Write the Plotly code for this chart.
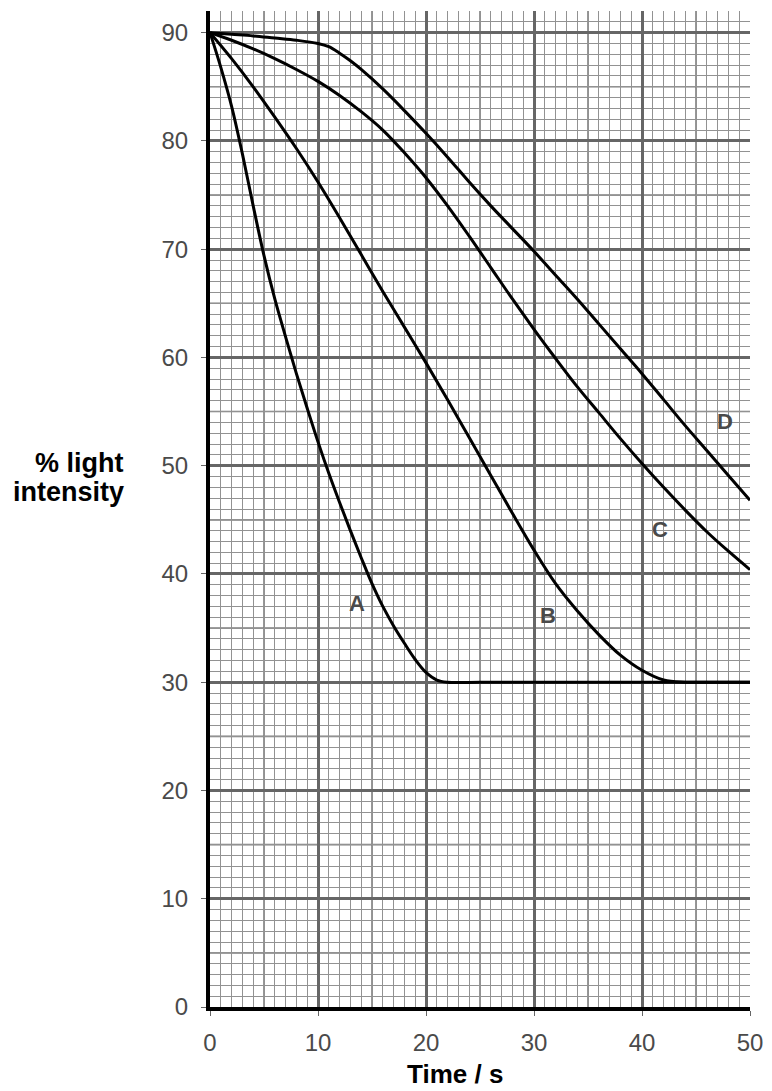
import plotly.graph_objects as go

# ---- data ----
A_x = [0, 1, 2, 3, 4, 5, 6, 7, 8, 9, 10, 11, 12, 13, 14, 15, 16, 17, 18, 19, 20, 21, 22, 25, 30, 40, 50]
A_y = [90, 86.8, 83.2, 78.8, 74.0, 69.4, 65.4, 61.9, 58.5, 55.3, 52.2, 49.3, 46.6, 44.0, 41.5, 39.1, 37.0, 35.2, 33.6, 32.1, 30.9, 30.2, 30.0, 30, 30, 30, 30]

B_x = [0, 2, 4, 6, 8, 10, 12, 14, 16, 18, 20, 22, 24, 26, 28, 30, 32, 34, 36, 38, 40, 42, 44, 46, 50]
B_y = [90, 87.6, 85.0, 82.2, 79.3, 76.2, 72.9, 69.5, 66.1, 62.8, 59.5, 56.1, 52.6, 49.1, 45.6, 42.2, 39.1, 36.6, 34.4, 32.5, 31.1, 30.2, 30.0, 30, 30]

C_x = [0, 2, 4, 6, 8, 10, 12, 14, 16, 18, 20, 22, 24, 26, 28, 30, 32, 34, 36, 38, 40, 42, 44, 46, 48, 50]
C_y = [90, 89.3, 88.5, 87.6, 86.6, 85.5, 84.2, 82.7, 81.0, 78.9, 76.6, 74.0, 71.2, 68.3, 65.4, 62.6, 59.9, 57.3, 54.9, 52.5, 50.2, 48.0, 45.9, 43.9, 42.1, 40.4]

D_x = [0, 2, 4, 6, 8, 10, 11, 12, 13, 14, 16, 18, 20, 22, 24, 26, 28, 30, 32, 34, 36, 38, 40, 42, 44, 46, 48, 50]
D_y = [90, 89.85, 89.7, 89.5, 89.3, 89.0, 88.7, 88.1, 87.4, 86.6, 84.8, 82.8, 80.7, 78.5, 76.2, 74.0, 71.9, 69.8, 67.6, 65.4, 63.1, 60.8, 58.5, 56.1, 53.7, 51.4, 49.1, 46.8]

curve_names = ["A", "B", "C", "D"]
label_x = [13.6, 31.3, 41.7, 47.7]
label_y = [37.3, 36.2, 44.1, 54.1]

x_ticks = [0, 10, 20, 30, 40, 50]
y_ticks = [0, 10, 20, 30, 40, 50, 60, 70, 80, 90]
x_title = "Time / s"
y_title_lines = ["% light", "intensity"]

FONT = "Liberation Sans, Arial, sans-serif"

fig = go.Figure()
for name, xs, ys in zip(curve_names, [A_x, B_x, C_x, D_x], [A_y, B_y, C_y, D_y]):
    fig.add_trace(go.Scatter(x=xs, y=ys, mode="lines", name=name,
                             line=dict(color="#000000", width=3, shape="spline", smoothing=1.0),
                             showlegend=False, hoverinfo="skip"))

# labels on curves
for name, lx, ly in zip(curve_names, label_x, label_y):
    fig.add_annotation(x=lx, y=ly, xref="x", yref="y", text=name, showarrow=False,
                       font=dict(family=FONT, size=22, color="#4a4a4a", weight="bold"))

# medium (every 5) graph-paper lines
for v in range(5, 50, 10):
    fig.add_shape(type="line", xref="x", yref="paper", x0=v, x1=v, y0=0, y1=1,
                  line=dict(color="#7e7e7e", width=1.6), layer="between")
for v in range(5, 92, 10):
    fig.add_shape(type="line", xref="paper", yref="y", x0=0, x1=1, y0=v, y1=v,
                  line=dict(color="#7e7e7e", width=1.6), layer="between")

# axis titles (positions relative to plot area: left 210px, bottom 1007px, 540x996 px)
fig.add_annotation(x=(455 - 210) / 540, y=-(1074 - 1007) / 996, xref="paper", yref="paper",
                   text=x_title, showarrow=False, xanchor="center", yanchor="middle",
                   font=dict(family=FONT, size=26, color="#000000", weight="bold"))
for line, py in zip(y_title_lines, [463, 492]):
    fig.add_annotation(x=(126 - 210) / 540, y=(1007 - py) / 996, xref="paper", yref="paper",
                       text=line, showarrow=False, xanchor="right", yanchor="middle",
                       font=dict(family=FONT, size=27, color="#000000", weight="bold"))

axis_common = dict(
    showgrid=True, gridcolor="#666666", gridwidth=3,
    zeroline=False, showline=True, linecolor="#000000", linewidth=4,
    ticks="outside", ticklen=5, tickcolor="#666666", tickwidth=1,
    tickfont=dict(family=FONT, size=24, color="#4a4a4a"),
    minor=dict(dtick=1, showgrid=True, gridcolor="#929292", gridwidth=1, ticks=""),
    fixedrange=True,
)

fig.update_xaxes(range=[0, 50], tickvals=x_ticks, ticktext=[str(v) for v in x_ticks],
                 ticklabelstandoff=6, **axis_common)
fig.update_yaxes(range=[0, 92], tickvals=y_ticks, ticktext=[str(v) for v in y_ticks],
                 ticklabelstandoff=8, **axis_common)

# page body has an 8px margin, so the figure is offset by 8px right and down
fig.update_layout(
    width=764, height=1083,
    margin=dict(l=202, r=22, t=3, b=84),
    paper_bgcolor="#ffffff", plot_bgcolor="#ffffff",
    showlegend=False,
)

fig.write_html("out.html")
